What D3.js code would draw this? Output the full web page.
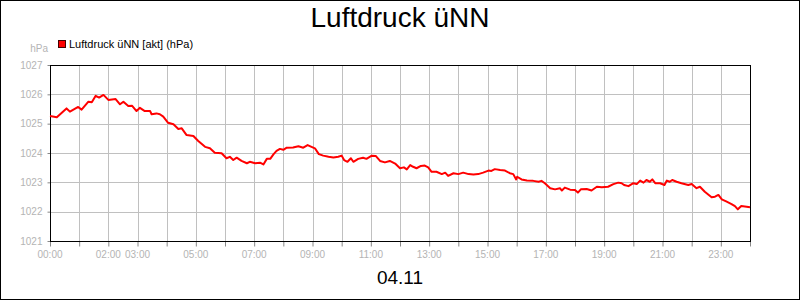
<!DOCTYPE html>
<html>
<head>
<meta charset="utf-8">
<script src="https://cdn.jsdelivr.net/npm/d3@7"></script>
<style>
    body { margin: 0; background: #fff; }
    svg { display: block; font-family: "Liberation Sans", Arial, sans-serif; }
</style>
</head>
<body>
<div id="chart"></div>
<script>
// Messwerte (Uhrzeit / hPa)
var times = [
    "00:00", "00:14", "00:34", "00:41", "00:58", "01:05", "01:19", "01:26", "01:34", "01:41",
    "01:50", "02:00", "02:15", "02:24", "02:31", "02:41", "02:49", "02:58", "03:05", "03:15",
    "03:26", "03:29", "03:39", "03:46", "03:53", "04:03", "04:14", "04:24", "04:31", "04:41",
    "04:55", "05:05", "05:19", "05:29", "05:39", "05:53", "06:03", "06:10", "06:17", "06:24",
    "06:34", "06:45", "06:51", "07:02", "07:12", "07:19", "07:26", "07:33", "07:40", "07:46",
    "07:53", "08:00", "08:07", "08:20", "08:31", "08:41", "08:50", "08:58", "09:05", "09:13",
    "09:22", "09:33", "09:43", "09:53", "10:00", "10:05", "10:12", "10:19", "10:24", "10:34",
    "10:44", "10:51", "11:02", "11:10", "11:19", "11:29", "11:39", "11:50", "12:00", "12:08",
    "12:14", "12:21", "12:27", "12:34", "12:43", "12:51", "12:58", "13:05", "13:15", "13:26",
    "13:33", "13:39", "13:50", "14:00", "14:10", "14:21", "14:31", "14:41", "14:51", "15:02",
    "15:08", "15:15", "15:26", "15:36", "15:46", "15:53", "15:59", "16:01", "16:10", "16:21",
    "16:34", "16:45", "16:51", "16:58", "17:09", "17:19", "17:29", "17:33", "17:39", "17:50",
    "18:00", "18:06", "18:12", "18:24", "18:34", "18:45", "18:55", "19:08", "19:19", "19:29",
    "19:36", "19:41", "19:50", "20:00", "20:07", "20:14", "20:21", "20:27", "20:34", "20:39",
    "20:45", "20:55", "21:04", "21:09", "21:15", "21:20", "21:29", "21:39", "21:53", "22:00",
    "22:10", "22:17", "22:27", "22:41", "22:48", "22:55", "23:02", "23:12", "23:22", "23:29",
    "23:35", "23:42", "23:53", "24:00"
];
var pressure = [
    1025.26, 1025.22, 1025.52, 1025.41, 1025.57, 1025.48, 1025.75, 1025.73, 1025.95, 1025.89,
    1025.98, 1025.81, 1025.84, 1025.66, 1025.75, 1025.60, 1025.61, 1025.43, 1025.54, 1025.43,
    1025.43, 1025.32, 1025.35, 1025.32, 1025.24, 1025.03, 1024.98, 1024.82, 1024.84, 1024.61,
    1024.58, 1024.41, 1024.21, 1024.16, 1024.01, 1023.99, 1023.82, 1023.87, 1023.76, 1023.84,
    1023.73, 1023.65, 1023.70, 1023.65, 1023.67, 1023.61, 1023.80, 1023.80, 1023.96, 1024.07,
    1024.14, 1024.11, 1024.18, 1024.19, 1024.23, 1024.18, 1024.27, 1024.21, 1024.16, 1023.96,
    1023.91, 1023.87, 1023.85, 1023.87, 1023.91, 1023.76, 1023.70, 1023.82, 1023.70, 1023.80,
    1023.84, 1023.80, 1023.91, 1023.90, 1023.73, 1023.68, 1023.73, 1023.64, 1023.48, 1023.51,
    1023.44, 1023.59, 1023.53, 1023.48, 1023.56, 1023.57, 1023.51, 1023.36, 1023.36, 1023.28,
    1023.33, 1023.22, 1023.31, 1023.28, 1023.33, 1023.28, 1023.27, 1023.28, 1023.33, 1023.40,
    1023.39, 1023.45, 1023.42, 1023.40, 1023.31, 1023.28, 1023.10, 1023.19, 1023.10, 1023.06,
    1023.05, 1023.02, 1023.05, 1022.97, 1022.80, 1022.76, 1022.80, 1022.72, 1022.82, 1022.75,
    1022.74, 1022.65, 1022.76, 1022.77, 1022.72, 1022.85, 1022.83, 1022.85, 1022.94, 1022.99,
    1022.97, 1022.91, 1022.87, 1022.97, 1022.94, 1023.06, 1022.99, 1023.08, 1023.02, 1023.10,
    1022.97, 1022.97, 1022.91, 1023.06, 1023.02, 1023.08, 1023.02, 1022.97, 1022.91, 1022.94,
    1022.80, 1022.85, 1022.68, 1022.49, 1022.51, 1022.57, 1022.42, 1022.34, 1022.26, 1022.19,
    1022.08, 1022.19, 1022.17, 1022.15
];

// Achsenbeschriftungen
var yTicks = [1021, 1022, 1023, 1024, 1025, 1026, 1027];
var xLabels = ["00:00", "02:00", "03:00", "05:00", "07:00", "09:00", "11:00", "13:00",
    "15:00", "17:00", "19:00", "21:00", "23:00"];
var title = "Luftdruck üNN";
var seriesName = "Luftdruck üNN [akt] (hPa)";
var unit = "hPa";
var dateLabel = "04.11";

var toMinutes = function (t) {
    var p = t.split(":");
    return +p[0] * 60 + +p[1];
};

var width = 800, height = 300;
var plot = { left: 50, right: 750, top: 65, bottom: 241 };

var svg = d3.select("#chart").append("svg")
    .attr("width", width)
    .attr("height", height);

// Rahmen
svg.append("rect")
    .attr("x", 0.5).attr("y", 0.5)
    .attr("width", width - 1).attr("height", height - 1)
    .attr("fill", "#fff").attr("stroke", "#000");

var x = d3.scaleLinear().domain([0, 1440]).range([plot.left, plot.right]);
var y = d3.scaleLinear().domain([1021, 1027]).range([plot.bottom, plot.top]);

// Gitter
var grid = svg.append("g").attr("shape-rendering", "crispEdges");
grid.selectAll(".vgrid")
    .data(d3.range(0, 1441, 60))
    .enter().append("line")
    .attr("x1", d => Math.round(x(d)) + 0.5).attr("x2", d => Math.round(x(d)) + 0.5)
    .attr("y1", plot.top).attr("y2", plot.bottom)
    .attr("stroke", "#c0c0c0");
grid.selectAll(".hgrid")
    .data(yTicks)
    .enter().append("line")
    .attr("x1", plot.left).attr("x2", plot.right)
    .attr("y1", d => Math.round(y(d)) + 0.5).attr("y2", d => Math.round(y(d)) + 0.5)
    .attr("stroke", "#c0c0c0");

// X-Achse
var xAxis = d3.axisBottom(x)
    .tickValues(d3.range(0, 1441, 60))
    .tickSize(5)
    .tickFormat(() => "");
var gx = svg.append("g")
    .attr("transform", "translate(0," + (plot.bottom + 0.5) + ")")
    .call(xAxis);
gx.select(".domain").remove();
gx.selectAll(".tick line").attr("stroke", "#888");

svg.append("g").selectAll("text")
    .data(xLabels)
    .enter().append("text")
    .attr("x", d => x(toMinutes(d)))
    .attr("y", 258)
    .attr("text-anchor", "middle")
    .attr("font-size", "10px")
    .attr("fill", "#b4b4b4")
    .text(d => d);

// Y-Achse
var yAxis = d3.axisLeft(y)
    .tickValues(yTicks)
    .tickSize(3)
    .tickPadding(5)
    .tickFormat(d3.format("d"));
var gy = svg.append("g")
    .attr("transform", "translate(" + (plot.left + 0.5) + ",0)")
    .call(yAxis);
gy.select(".domain").remove();
gy.selectAll(".tick line").attr("stroke", "#888");
gy.selectAll(".tick text")
    .attr("font-size", "10px")
    .attr("font-family", "Liberation Sans, Arial, sans-serif")
    .attr("fill", "#b4b4b4");

// Plotrahmen
svg.append("rect")
    .attr("x", plot.left + 0.5).attr("y", plot.top + 0.5)
    .attr("width", plot.right - plot.left).attr("height", plot.bottom - plot.top)
    .attr("fill", "none").attr("stroke", "#000")
    .attr("shape-rendering", "crispEdges");

// Kurve
var data = times.map((t, i) => ({ m: toMinutes(t), v: pressure[i] }));
var line = d3.line()
    .x(d => x(d.m))
    .y(d => y(d.v));
svg.append("path")
    .datum(data)
    .attr("d", line)
    .attr("fill", "none")
    .attr("stroke", "#ff0000")
    .attr("stroke-width", 2)
    .attr("stroke-linejoin", "round");

// Titel, Legende, Einheit, Datum
svg.append("text")
    .attr("x", 400).attr("y", 27)
    .attr("text-anchor", "middle")
    .attr("font-size", "28px")
    .attr("fill", "#000")
    .text(title);

svg.append("rect")
    .attr("x", 58.5).attr("y", 40.5)
    .attr("width", 7).attr("height", 7)
    .attr("fill", "#ff0000").attr("stroke", "#400");
svg.append("text")
    .attr("x", 69).attr("y", 48)
    .attr("font-size", "11px")
    .attr("fill", "#000")
    .text(seriesName);

svg.append("text")
    .attr("x", 48).attr("y", 52)
    .attr("text-anchor", "end")
    .attr("font-size", "10px")
    .attr("fill", "#b4b4b4")
    .text(unit);

svg.append("text")
    .attr("x", 400).attr("y", 284)
    .attr("text-anchor", "middle")
    .attr("font-size", "19px")
    .attr("fill", "#000")
    .text(dateLabel);
</script>
</body>
</html>
